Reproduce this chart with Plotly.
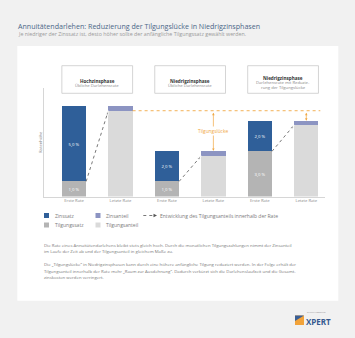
import plotly.graph_objects as go

W, H = 355, 338

# ---------------- data ----------------
categories = ["Erste Rate", "Letzte Rate", "Erste Rate", "Letzte Rate", "Erste Rate", "Letzte Rate"]
phase_titles = ["Hochzinsphase", "Niedrigzinsphase", "Niedrigzinsphase"]
phase_subtitles = [["Übliche Darlehensrate"], ["Übliche Darlehensrate"],
                   ["Darlehensrate mit Reduzie-", "rung der Tilgungslücke"]]
zinssatz = [5.0, None, 2.0, None, 2.0, None]
tilgungssatz = [1.0, None, 1.0, None, 3.0, None]
tilgungsanteil = [None, 5.7, None, 2.7, None, 4.75]
zinsanteil = [None, 0.3, None, 0.3, None, 0.25]
zinssatz_labels = ["5,0 %", "", "2,0 %", "", "2,0 %", ""]
tilgungssatz_labels = ["1,0 %", "", "1,0 %", "", "3,0 %", ""]
legend_labels = ["Zinssatz", "Zinsanteil", "Tilgungssatz", "Tilgungsanteil"]
arrow_legend = "Entwicklung des Tilgungsanteils innerhalb der Rate"
gap_label = "Tilgungslücke"
y_title = "Ratenhöhe"
title = "Annuitätendarlehen: Reduzierung der Tilgungslücke in Niedrigzinsphasen"
subtitle = "Je niedriger der Zinssatz ist, desto höher sollte der anfängliche Tilgungssatz gewählt werden."
paragraphs = [
    ["Die Rate eines Annuitätendarlehens bleibt stets gleich hoch. Durch die monatlichen Tilgungszahlungen nimmt der Zinsanteil",
     "im Laufe der Zeit ab und der Tilgungsanteil in gleichem Maße zu."],
    ["Die „Tilgungslücke“ in Niedrigzinsphasen kann durch eine höhere anfängliche Tilgung reduziert werden. In der Folge erhält der",
     "Tilgungsanteil innerhalb der Rate mehr „Raum zur Ausdehnung“. Dadurch verkürzt sich die Darlehenslaufzeit und die Gesamt-",
     "zinskosten werden verringert."],
]

# ---------------- style ----------------
FONT = "Open Sans"
C_BLUE = "#2f5f99"
C_PURPLE = "#8c94c2"
C_GREY = "#b4b4b4"
C_LIGHT = "#dadada"
C_ORANGE = "#f0a742"
C_TXT = "#7a7a7a"


def xp(px):
    return px / W


def yp(py):
    return 1 - py / H


x = list(range(len(categories)))
bw = 0.523

# plot area in pixels
PX0, PX1, PY0, PY1 = 44, 325, 88, 196.5
unit = 46.46
xa = -(74 - PX0) / unit
xb = xa + (PX1 - PX0) / unit
ymax = (PY1 - PY0) / 15.05

fig = go.Figure()
fig.add_bar(x=x, y=tilgungssatz, width=bw, marker=dict(color=C_GREY, line=dict(width=0)),
            text=tilgungssatz_labels, textposition="inside", insidetextanchor="middle",
            textfont=dict(size=4.3, color="white", family=FONT), hoverinfo="skip")
fig.add_bar(x=x, y=zinssatz, width=bw, marker=dict(color=C_BLUE, line=dict(width=0)),
            text=zinssatz_labels, textposition="inside", insidetextanchor="middle",
            textfont=dict(size=4.3, color="white", family=FONT), hoverinfo="skip")
fig.add_bar(x=x, y=tilgungsanteil, width=bw, marker=dict(color=C_LIGHT, line=dict(width=0)), hoverinfo="skip")
fig.add_bar(x=x, y=zinsanteil, width=bw, marker=dict(color=C_PURPLE, line=dict(width=0)), hoverinfo="skip")

# development arrows
for i in range(0, len(x) - 1, 2):
    x0, y0 = x[i] + bw / 2, tilgungssatz[i]
    x1, y1 = x[i + 1] - bw / 2, tilgungsanteil[i + 1]
    fig.add_scatter(x=[x0, x1], y=[y0, y1], mode="lines+markers",
                    line=dict(color="#555555", width=0.8, dash="dot"),
                    marker=dict(symbol=["circle", "arrow"], size=[0, 4.5], angleref="previous",
                                color="#555555"),
                    hoverinfo="skip")

# reference line (Tilgungsanteil of first "Letzte Rate")
gap_ref = tilgungsanteil[1]
fig.add_scatter(x=[x[1] + bw / 2, x[5] + bw / 2 + 0.04], y=[gap_ref, gap_ref], mode="lines",
                line=dict(color=C_ORANGE, width=0.9, dash="dot"), hoverinfo="skip")

annotations = []
shapes = []

# gap arrows
for i in (3, 5):
    top = tilgungsanteil[i] + zinsanteil[i]
    annotations.append(dict(x=x[i], y=top, ax=x[i], ay=gap_ref, xref="x", yref="y", axref="x", ayref="y",
                            text="", showarrow=True, arrowside="end+start", arrowhead=2, startarrowhead=2,
                            arrowsize=0.7, startarrowsize=0.7, arrowwidth=0.7, arrowcolor=C_ORANGE,
                            standoff=0.5, startstandoff=0.5))
annotations.append(dict(x=x[3], y=(gap_ref + tilgungsanteil[3] + zinsanteil[3]) / 2, xref="x", yref="y",
                        text=gap_label, showarrow=False, bgcolor="white",
                        font=dict(size=4.8, color=C_ORANGE, family=FONT), borderpad=1))

# panel
shapes.append(dict(type="rect", xref="paper", yref="paper", x0=xp(17.3), x1=xp(338.3), y0=yp(300.7), y1=yp(46),
                   fillcolor="white", line=dict(width=0), layer="below"))

# header boxes
title_y = [[77.3, 81.7], [77.3, 81.7], [74.2, 79.1, 84.0]]
for k in range(3):
    i0, i1 = 2 * k, 2 * k + 1
    shapes.append(dict(type="rect", xref="x", yref="paper", x0=x[i0] - bw / 2, x1=x[i1] + bw / 2,
                       y0=yp(93.3), y1=yp(65.7), fillcolor="white",
                       line=dict(color="#c9c9c9", width=0.8), layer="above"))
    cx = (x[i0] + x[i1]) / 2
    lines = [phase_titles[k]] + phase_subtitles[k]
    for j, t in enumerate(lines):
        annotations.append(dict(x=cx, y=yp(title_y[k][j]), xref="x", yref="paper", showarrow=False,
                                text=("<b>%s</b>" % t) if j == 0 else t, borderpad=0,
                                font=dict(size=4.6 if j == 0 else 4.2, color="#333" if j == 0 else "#8a8a8a",
                                          family=FONT)))

# y-axis title
annotations.append(dict(x=xp(37.5), y=yp(142), xref="paper", yref="paper", text=y_title, textangle=-90,
                        showarrow=False, borderpad=0, font=dict(size=4.2, color=C_TXT, family=FONT)))

# legend
sq = 5
leg = [(44, 215.5, C_BLUE, legend_labels[0]), (95.5, 215.5, C_PURPLE, legend_labels[1]),
       (44, 225, C_GREY, legend_labels[2]), (95.5, 225, C_LIGHT, legend_labels[3])]
for lx, ly, col, lab in leg:
    shapes.append(dict(type="rect", xref="paper", yref="paper", x0=xp(lx), x1=xp(lx + sq),
                       y0=yp(ly + sq / 2), y1=yp(ly - sq / 2), fillcolor=col, line=dict(width=0)))
    annotations.append(dict(x=xp(lx + 9.5), y=yp(ly), xref="paper", yref="paper", xanchor="left", borderpad=0,
                            text=lab, showarrow=False, font=dict(size=5, color=C_TXT, family=FONT)))
shapes.append(dict(type="line", xref="paper", yref="paper", x0=xp(143.3), x1=xp(154), y0=yp(215.5), y1=yp(215.5),
                   line=dict(color="#555", width=0.8, dash="dot")))
shapes.append(dict(type="path", xref="paper", yref="paper",
                   path="M %f %f L %f %f L %f %f Z" % (xp(153.5), yp(213.8), xp(157), yp(215.5), xp(153.5), yp(217.2)),
                   fillcolor="#555", line=dict(width=0)))
annotations.append(dict(x=xp(159.3), y=yp(215.5), xref="paper", yref="paper", xanchor="left", borderpad=0,
                        text=arrow_legend, showarrow=False, font=dict(size=5, color=C_TXT, family=FONT)))

# paragraphs
para_y = [[249.2, 255.4], [267.9, 274.5, 281.0]]
for p, lines in enumerate(paragraphs):
    for j, t in enumerate(lines):
        annotations.append(dict(x=xp(42.5), y=yp(para_y[p][j]), xref="paper", yref="paper", xanchor="left",
                                text=t, showarrow=False, borderpad=0,
                                font=dict(size=4.3, color=C_TXT, family=FONT)))

# title
annotations.append(dict(x=xp(16.8), y=yp(20.0), xref="paper", yref="paper", xanchor="left", text=title,
                        showarrow=False, borderpad=0, font=dict(size=7.1, color="#4b6788", family=FONT)))
annotations.append(dict(x=xp(16.8), y=yp(28.6), xref="paper", yref="paper", xanchor="left", text=subtitle,
                        showarrow=False, borderpad=0, font=dict(size=5.3, color="#9a9a9a", family=FONT)))

# logo
shapes.append(dict(type="rect", xref="paper", yref="paper", x0=xp(295), x1=xp(304), y0=yp(325), y1=yp(315.5),
                   fillcolor="#f2a33a", line=dict(width=0)))
shapes.append(dict(type="path", xref="paper", yref="paper",
                   path="M %f %f L %f %f L %f %f Z" % (xp(295), yp(315.5), xp(304), yp(315.5), xp(295), yp(321)),
                   fillcolor="#3a5f95", line=dict(width=0)))
annotations.append(dict(x=xp(304.5), y=yp(321.2), xref="paper", yref="paper", xanchor="left", yanchor="middle",
                        borderpad=0, text="<b>XPERT</b>", showarrow=False,
                        font=dict(size=8.0, color="#35598f", family=FONT)))
annotations.append(dict(x=xp(305.5), y=yp(314.8), xref="paper", yref="paper", xanchor="left", yanchor="bottom",
                        borderpad=0, text="BAUFINANZIERUNG", showarrow=False,
                        font=dict(size=2.0, color="#888", family=FONT)))

fig.update_layout(
    width=W, height=H, margin=dict(l=0, r=0, t=0, b=0, pad=0),
    paper_bgcolor="#f1f1f1", plot_bgcolor="rgba(0,0,0,0)",
    barmode="stack", bargap=0, showlegend=False,
    font=dict(family=FONT, color=C_TXT),
    xaxis=dict(domain=[xp(PX0), xp(PX1)], range=[xa, xb], tickvals=x, ticktext=categories,
               tickfont=dict(size=4.2, color="#8a8a8a", family=FONT), ticks="", showgrid=False,
               zeroline=False, showline=True, linecolor="#d6d6d6", linewidth=0.8, fixedrange=True),
    yaxis=dict(domain=[yp(PY1), yp(PY0)], range=[0, ymax], showticklabels=False, ticks="", showgrid=False,
               zeroline=False, showline=True, linecolor="#d6d6d6", linewidth=0.8, fixedrange=True),
    shapes=shapes, annotations=annotations,
)

fig.write_html("out.html", config={"displayModeBar": False})
